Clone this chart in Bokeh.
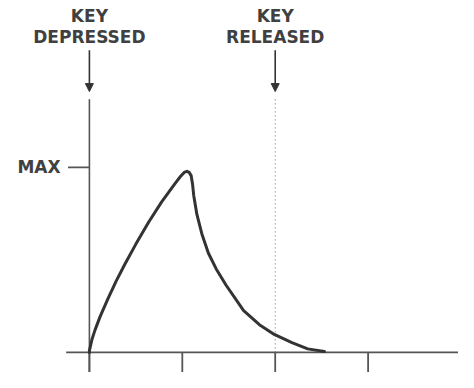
from bokeh.plotting import figure
from bokeh.models import Range1d, Arrow, NormalHead
from bokeh.core.properties import value
from bokeh.embed import file_html
from bokeh.resources import INLINE

# envelope curve (time in tick units, level relative to MAX)
attack_t = [0.0, 0.0, 0.028, 0.062, 0.114, 0.20, 0.288, 0.38, 0.50,
            0.637, 0.776, 0.915, 0.98, 1.02, 1.05]
attack_v = [0.0, 0.01, 0.071, 0.123, 0.192, 0.29, 0.385, 0.475, 0.585,
            0.703, 0.812, 0.908, 0.950, 0.972, 0.978]
release_t = [1.075, 1.095, 1.11, 1.123, 1.157, 1.21, 1.28, 1.365, 1.47, 1.66,
             1.83, 1.99, 2.18, 2.35, 2.53]
release_v = [0.972, 0.955, 0.91, 0.848, 0.745, 0.641, 0.537, 0.451, 0.364, 0.226,
             0.150, 0.097, 0.053, 0.019, 0.005]

time_ticks = [0, 1, 2, 3]
max_level = 1.0
max_label = "MAX"
key_down_t = 0
key_up_t = 2
labels_top = ["KEY", "KEY"]
labels_bottom = ["DEPRESSED", "RELEASED"]
label_t = [key_down_t, key_up_t]

# layout extents (data units)
x_lo, x_hi = -0.957, 3.973
y_lo, y_hi = -0.1086, 1.901
axis_top = 1.368
xaxis_left = -0.25
tick_len = 0.12
max_tick_left = -0.23
max_label_x = -0.31
arrow_start = 1.632
arrow_end = 1.409
label_y_top = 1.816
label_y_bottom = 1.702

ink = "#333333"
text_col = "#404040"
axis_col = "#555555"
font = value("DejaVu Sans")

p = figure(width=458, height=372, output_backend="svg", toolbar_location=None,
           x_axis_type=None, y_axis_type=None, min_border=0,
           x_range=Range1d(x_lo, x_hi), y_range=Range1d(y_lo, y_hi))
p.outline_line_color = None
p.grid.visible = False
p.background_fill_color = "white"
p.border_fill_color = "white"

# axes drawn as lines
p.segment(x0=[key_down_t], y0=[-tick_len], x1=[key_down_t], y1=[axis_top],
          line_color=axis_col, line_width=1.6)
p.segment(x0=[xaxis_left], y0=[0], x1=[x_hi + 0.2], y1=[0],
          line_color=axis_col, line_width=1.8)
p.segment(x0=time_ticks, y0=[0] * len(time_ticks), x1=time_ticks,
          y1=[-tick_len] * len(time_ticks), line_color=axis_col, line_width=1.8)
p.segment(x0=[max_tick_left], y0=[max_level], x1=[key_down_t], y1=[max_level],
          line_color=axis_col, line_width=1.8)
p.text(x=[max_label_x], y=[max_level], text=[max_label], text_align="right",
       text_baseline="middle", text_font=font,
       text_font_style="bold", text_font_size="17px", text_color=text_col)

# key released dotted marker
p.segment(x0=[key_up_t], y0=[0], x1=[key_up_t], y1=[axis_top],
          line_color="#666666", line_width=1, line_dash="1 3")

# envelope
p.line(attack_t + release_t, attack_v + release_v, line_color=ink, line_width=3,
       line_join="round", line_cap="round")

# arrows and labels
for t in label_t:
    p.add_layout(Arrow(end=NormalHead(size=8, fill_color=ink, line_color=ink),
                       x_start=t, y_start=arrow_start, x_end=t, y_end=arrow_end,
                       line_color=ink, line_width=1.6))
p.text(x=label_t, y=[label_y_top] * 2, text=labels_top, text_align="center",
       text_baseline="middle", text_font=font,
       text_font_style="bold", text_font_size="17px", text_color=text_col)
p.text(x=label_t, y=[label_y_bottom] * 2, text=labels_bottom, text_align="center",
       text_baseline="middle", text_font=font,
       text_font_style="bold", text_font_size="17px", text_color=text_col)

open("out.html", "w").write(file_html(p, INLINE))
